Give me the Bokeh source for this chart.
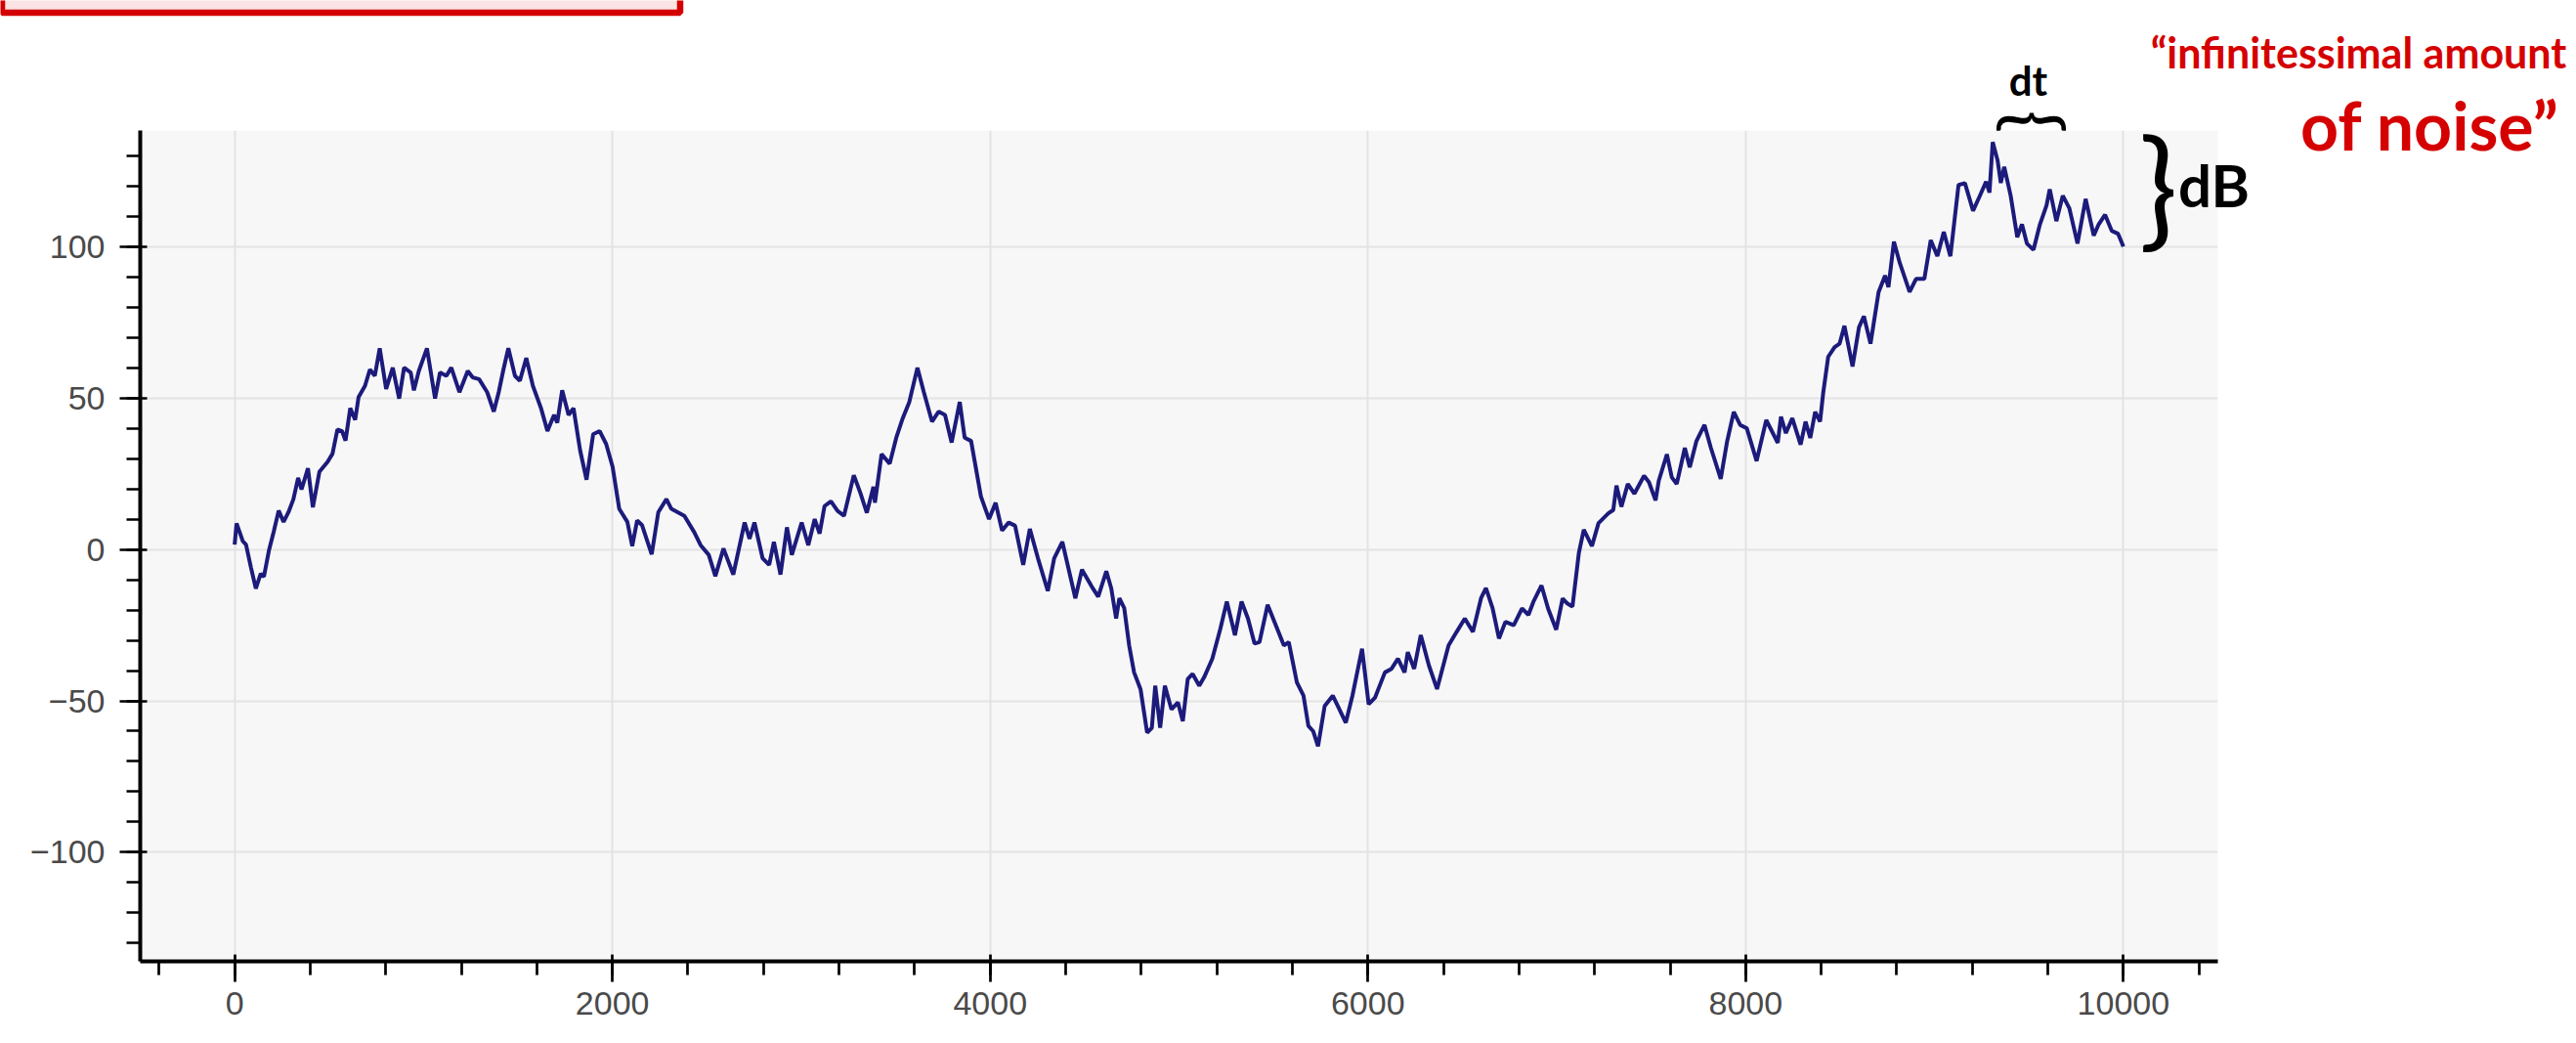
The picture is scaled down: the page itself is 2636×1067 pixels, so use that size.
from bokeh.plotting import figure
from bokeh.models import Range1d, SingleIntervalTicker, Label, BoxAnnotation
from bokeh.embed import file_html
from bokeh.resources import INLINE
import math

# ---- data (step index, value) ----
seg1_x = [0, 10, 43, 60, 86, 112, 138, 155, 181, 207, 233, 259, 285, 311, 336, 354, 388, 414, 449, 492,
          518, 544, 569, 587, 612, 638, 656, 690, 716, 742, 768, 802, 837, 871, 897, 932, 949, 975, 1018, 1061,
          1087, 1121, 1147, 1190, 1234, 1260, 1294, 1337, 1372, 1398, 1423, 1449, 1484, 1510, 1544, 1579, 1622, 1656, 1691, 1708,
          1734, 1768, 1794, 1829, 1863, 1898, 1932, 1967, 2001, 2036, 2079, 2105, 2131, 2157, 2208, 2243, 2286, 2312]
seg1_y = [1.6, 8.6, 2.7, 1.6, -5.9, -12.9, -8, -9, -0.5, 5.9, 12.8, 9.1, 12.3, 16.6, 23.6, 19.8, 26.8, 13.9, 25.7, 28.9,
          31.6, 39.6, 39, 35.9, 46.6, 42.8, 50.3, 54, 59.4, 57.3, 66.4, 53, 60, 49.8, 60, 58.4, 52.5, 58.9, 66.4, 49.8,
          58.4, 57.3, 60, 51.9, 58.9, 56.8, 56.2, 51.9, 45.5, 51.9, 59.4, 66.4, 57.3, 55.7, 63.2, 54, 46.6, 39.1, 44.4, 41.8,
          52.5, 44.4, 46.6, 32.7, 23, 38, 39.1, 34.8, 27.3, 13.4, 9.1, 1.1, 9.6, 8, -1.6, 12.3, 16.6, 13.4]

seg2_x = [2381, 2433, 2467, 2510, 2545, 2588, 2640, 2700, 2726, 2752, 2795, 2830, 2855, 2890, 2924, 2950, 3002, 3037, 3071, 3097,
          3123, 3157, 3192, 3226, 3278, 3313, 3347, 3382, 3390, 3425, 3468, 3503, 3537, 3572, 3615, 3649, 3692, 3727, 3761, 3796,
          3839, 3865, 3899, 3951, 3994, 4029, 4063, 4098, 4132, 4175, 4210, 4253, 4305, 4339, 4382]
seg2_y = [11.1, 5.7, 1.4, -1.8, -8.8, 0.3, -8.3, 8.9, 3.5, 8.9, -2.9, -5.1, 2.5, -8.3, 7.3, -1.8, 8.9, 1.4, 10, 5.2,
          14.3, 15.9, 12.7, 11.1, 24.5, 18.6, 12.1, 20.7, 15.4, 31.5, 28.3, 36.9, 43.3, 48.7, 60, 51.9, 42.2, 45.5, 44.4, 35.3,
          48.7, 36.9, 35.8, 17.5, 10, 15.4, 6.2, 8.9, 7.8, -5.1, 6.8, -2.9, -13.7, -2.9, 2.5]

seg3_x = [4451, 4486, 4537, 4572, 4615, 4641, 4667, 4684, 4710, 4736, 4762, 4796, 4831, 4856, 4874, 4900, 4925, 4960, 4994, 5020,
          5046, 5072, 5107, 5133, 5176, 5219, 5253, 5296, 5331, 5365, 5400, 5426, 5469, 5512, 5555, 5581, 5624, 5659, 5685, 5710,
          5736, 5771, 5814, 5849, 5883, 5918, 5969, 6004, 6038, 6090, 6125, 6159, 6194, 6211, 6245, 6280, 6323, 6366, 6427, 6470,
          6513, 6556, 6599, 6625, 6660, 6694, 6728, 6772]
seg3_y = [-16.1, -6.7, -12.2, -15.6, -7.2, -12.8, -22.8, -16.1, -19.4, -31.7, -40.6, -46.1, -60.5, -58.9, -45, -58.9, -45, -52.8, -50.5, -56.7,
          -42.8, -41.1, -45, -42.2, -36.1, -26.1, -17.2, -28.3, -17.2, -22.8, -31.1, -30.6, -18.3, -25, -31.7, -30.6, -43.9, -48.3, -58.3, -60,
          -65, -51.7, -48.3, -52.8, -57.2, -48.3, -32.8, -51.1, -48.9, -40.6, -39.4, -36.1, -40.6, -33.9, -39.4, -28.3, -38.3, -46.1, -31.7, -27.2,
          -22.8, -27.2, -16.1, -12.8, -19.4, -29.4, -23.9, -25]

seg4_x = [6816, 6850, 6876, 6919, 6954, 6997, 7031, 7057, 7083, 7117, 7143, 7186, 7221, 7273, 7299, 7316, 7342, 7376, 7411, 7462,
          7488, 7523, 7540, 7583, 7609, 7635, 7678, 7704, 7739, 7782, 7816, 7868, 7902, 7937, 7971, 8006, 8058, 8109, 8170, 8187,
          8213, 8247, 8291, 8317, 8342, 8368, 8394]
seg4_y = [-19.5, -21.6, -17.3, -11.9, -19.5, -26.5, -16.2, -17.9, -18.9, -1.1, 6.5, 1.1, 8.7, 11.9, 13, 21.1, 14.1, 21.6, 18.4, 24.3,
          22.2, 16.2, 22.7, 31.4, 23.8, 21.6, 33.5, 27.1, 35.7, 41.1, 33.5, 23.3, 35.7, 45.4, 41.1, 40, 29.2, 42.7, 35.2, 43.8,
          38.4, 43.3, 34.6, 42.2, 36.8, 45.4, 42.2]

seg5_x = [8411, 8437, 8471, 8497, 8523, 8566, 8600, 8626, 8661, 8704, 8738, 8756, 8785, 8816, 8868, 8902, 8946, 8980, 9015, 9049,
          9084, 9127, 9161, 9204, 9239, 9273, 9291, 9308, 9334, 9351, 9369, 9403, 9438, 9463, 9489, 9524, 9558, 9593, 9610, 9645,
          9679, 9714, 9757, 9800, 9843, 9869, 9903, 9938, 9972, 10000]
seg5_y = [51.9, 63.6, 66.8, 67.9, 73.8, 60.4, 73.3, 77, 67.9, 85, 90.4, 86.6, 101.6, 94.6, 85, 89.3, 89.3, 102.1, 96.8, 104.8,
          96.8, 120.3, 120.9, 111.8, 116.6, 121.4, 117.8, 134.5, 128.4, 121, 126.3, 116.8, 103.1, 107.3, 101, 98.9, 107.3, 113.6, 118.9, 108.4,
          116.8, 112.6, 101, 115.7, 103.6, 107.3, 110.5, 105.2, 104.2, 100]

x_tick_interval = 2000
y_tick_interval = 50

xs = seg1_x + seg2_x + seg3_x + seg4_x + seg5_x
ys = seg1_y + seg2_y + seg3_y + seg4_y + seg5_y
assert len(xs) == len(ys), (len(xs), len(ys))

W, H = 2636, 1067

# ---------------- main chart ----------------
p = figure(width=W, height=H, output_backend="svg", toolbar_location=None,
           x_range=Range1d(-500, 10500), y_range=Range1d(-136, 138.3),
           min_border_left=143, min_border_right=367, min_border_top=133, min_border_bottom=84,
           background_fill_color="#f7f7f7", border_fill_color="white", outline_line_color=None)

xt = SingleIntervalTicker(interval=x_tick_interval, num_minor_ticks=5)
yt = SingleIntervalTicker(interval=y_tick_interval, num_minor_ticks=5)
p.xaxis.ticker = xt
p.yaxis.ticker = yt
p.xgrid.ticker = xt
p.ygrid.ticker = yt

for ax in (p.xaxis[0], p.yaxis[0]):
    ax.axis_line_color = "black"
    ax.axis_line_width = 4
    ax.major_tick_line_color = "black"
    ax.major_tick_line_width = 2.7
    ax.minor_tick_line_color = "black"
    ax.minor_tick_line_width = 2.7
    ax.major_tick_out = 21
    ax.major_tick_in = 7
    ax.minor_tick_out = 14
    ax.minor_tick_in = 0
    ax.major_label_text_font = "Liberation Sans"
    ax.major_label_text_font_size = "34px"
    ax.major_label_text_color = "#4a4a4a"
p.xaxis.major_label_standoff = 10
p.yaxis.major_label_standoff = 15
p.yaxis.major_label_overrides = {-100: "\u2212100", -50: "\u221250"}

for g in (p.xgrid[0], p.ygrid[0]):
    g.grid_line_color = "#e3e3e3"
    g.grid_line_width = 2

p.line(xs, ys, line_color="#1c1b7b", line_width=4)

# ---------------- transparent overlay for the hand-written notes ----------------
ov = figure(width=W, height=H, output_backend="svg", toolbar_location=None,
            x_range=Range1d(0, W), y_range=Range1d(H, 0),
            min_border=0, min_border_left=0, min_border_right=0, min_border_top=0, min_border_bottom=0,
            x_axis_location=None, y_axis_location=None,
            background_fill_color=None, border_fill_color=None, outline_line_color=None,
            styles={"position": "absolute", "top": "0px", "left": "0px"})
ov.grid.visible = False

ov.add_layout(BoxAnnotation(left=1.5, right=695.5, top=-30, bottom=12.5,
                            fill_color="#fae3e3", fill_alpha=1.0,
                            line_color="#d40000", line_width=6.5, line_alpha=1.0))

red = "#d50000"
ov.add_layout(Label(x=2413, y=53, text="\u201cinfinitessimal amount", text_align="center",
                    text_baseline="alphabetic", text_font="Lato", text_font_style="bold",
                    text_font_size="43px", text_color=red))
ov.add_layout(Label(x=2486, y=127, text="of noise\u201d", text_align="center",
                    text_baseline="alphabetic", text_font="Lato", text_font_style="bold",
                    text_font_size="68px", text_color=red))
ov.add_layout(Label(x=2075, y=81, text="dt", text_align="center",
                    text_baseline="alphabetic", text_font="Lato", text_font_style="bold",
                    text_font_size="42px", text_color="black"))
ov.add_layout(Label(x=2072, y=124, text="}", text_align="center", angle=math.pi / 2,
                    text_baseline="middle", text_font="Lato",
                    text_font_size="78px", text_color="black"))
ov.add_layout(Label(x=2208, y=187, text="}", text_align="center",
                    text_baseline="middle", text_font="Lato",
                    text_font_size="132px", text_color="black"))
ov.add_layout(Label(x=2265, y=188, text="dB", text_align="center",
                    text_baseline="alphabetic", text_font="Lato", text_font_style="bold",
                    text_font_size="60px", text_color="black"))

open("out.html", "w").write(file_html([p, ov], INLINE))
